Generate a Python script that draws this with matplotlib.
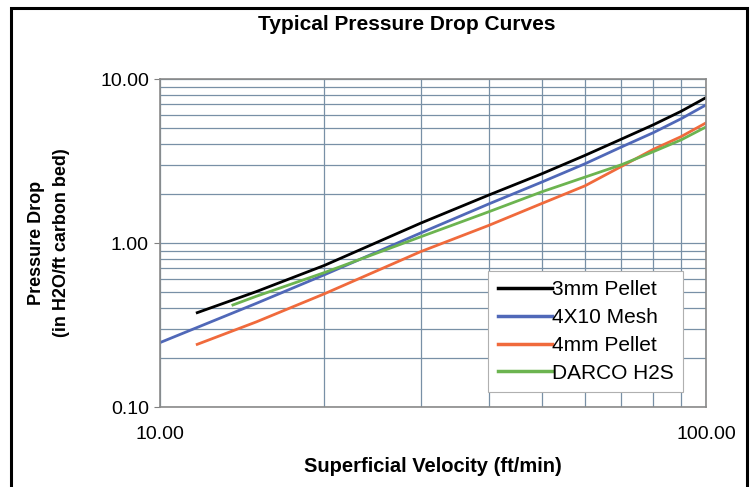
import matplotlib
matplotlib.use("Agg")
import matplotlib.pyplot as plt
from matplotlib.patches import Rectangle
from matplotlib.ticker import LogLocator, FormatStrFormatter, NullFormatter

plt.rcParams['font.family'] = ['Liberation Sans', 'DejaVu Sans']

# valeurs (ft/min, in H2O/ft)
v_3mm = [11.7, 15, 20, 30, 40, 50, 60, 70, 80, 90, 100]
dp_3mm = [0.376, 0.505, 0.73, 1.32, 1.96, 2.64, 3.42, 4.3, 5.25, 6.35, 7.7]

v_mesh = [10, 15, 20, 30, 40, 50, 60, 70, 80, 90, 100]
dp_mesh = [0.247, 0.428, 0.64, 1.15, 1.73, 2.35, 3.04, 3.85, 4.7, 5.72, 6.95]

v_4mm = [11.7, 15, 20, 30, 40, 50, 60, 70, 80, 90, 100]
dp_4mm = [0.241, 0.33, 0.49, 0.885, 1.28, 1.74, 2.23, 2.93, 3.72, 4.45, 5.4]

v_darco = [13.6, 15, 20, 30, 40, 50, 60, 70, 80, 90, 100]
dp_darco = [0.419, 0.473, 0.66, 1.09, 1.55, 2.05, 2.52, 3.0, 3.6, 4.25, 5.1]

series = [
    ("3mm Pellet", v_3mm, dp_3mm, "#000000"),
    ("4X10 Mesh", v_mesh, dp_mesh, "#5068b8"),
    ("4mm Pellet", v_4mm, dp_4mm, "#f06a3c"),
    ("DARCO H2S", v_darco, dp_darco, "#6cb450"),
]

W, H = 755, 487
fig = plt.figure(figsize=(W / 100, H / 100), dpi=100)
ax = fig.add_axes([160 / W, 1 - 407 / H, (706 - 160) / W, (407 - 79) / H])

for name, v, dp, c in series:
    ax.plot(v, dp, color=c, lw=2.0, label=name)

ax.set_xscale('log')
ax.set_yscale('log')
ax.set_xlim(10, 100)
ax.set_ylim(0.1, 10)

grid_c = '#7890a6'
ax.xaxis.set_major_locator(LogLocator(base=10))
ax.yaxis.set_major_locator(LogLocator(base=10))
ax.xaxis.set_minor_locator(LogLocator(base=10, subs=range(2, 10)))
ax.yaxis.set_minor_locator(LogLocator(base=10, subs=range(2, 10)))
ax.xaxis.set_major_formatter(FormatStrFormatter('%.2f'))
ax.yaxis.set_major_formatter(FormatStrFormatter('%.2f'))
ax.xaxis.set_minor_formatter(NullFormatter())
ax.yaxis.set_minor_formatter(NullFormatter())
ax.grid(True, which='both', color=grid_c, lw=0.9)
ax.set_axisbelow(True)

ax.tick_params(axis='y', which='major', length=4, color='#808080', pad=4, labelsize=14)
ax.tick_params(axis='x', which='major', length=0, pad=14, labelsize=14)
ax.tick_params(which='minor', length=0)
for s in ax.spines.values():
    s.set_color('#8a8a8a')
    s.set_linewidth(1.2)

leg = ax.legend(loc='lower right', bbox_to_anchor=((683 - 160) / 546, (407 - 392) / 328),
                fontsize=15, frameon=True, fancybox=False, framealpha=1,
                edgecolor='#b0b0b0', handlelength=2.6, handletextpad=0.0,
                labelspacing=0.42, borderpad=0.45, borderaxespad=0)
leg.get_frame().set_linewidth(0.8)
for ln in leg.get_lines():
    ln.set_linewidth(2.5)

fig.text(407 / W, 1 - 25 / H, "Typical Pressure Drop Curves", ha='center', va='center',
         fontsize=15, fontweight='bold')
fig.text(433 / W, 1 - 466 / H, "Superficial Velocity (ft/min)", ha='center', va='center',
         fontsize=14.5, fontweight='bold')
fig.text(49 / W, 1 - 243 / H, "Pressure Drop\n(in H2O/ft carbon bed)", ha='center', va='center',
         rotation=90, fontsize=13, fontweight='bold', linespacing=1.65, multialignment='center')

fig.add_artist(Rectangle((11 / W, -0.05), (747 - 11) / W, (H - 8) / H + 0.05,
                         transform=fig.transFigure, fill=False, ec='black', lw=2.2))

fig.savefig("out.png", dpi=100)
